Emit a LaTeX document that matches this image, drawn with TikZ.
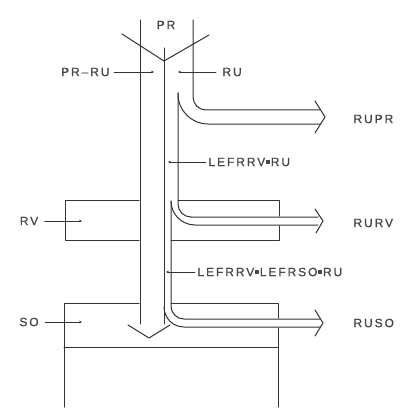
\documentclass[tikz,border=0pt]{standalone}
\usepackage{fontspec}
\setmainfont{Liberation Sans}
\newfontfamily\labfont[LetterSpace=16,FakeBold=0.8]{Liberation Sans}
\usetikzlibrary{arrows.meta}
\newcommand{\sqmark}{\hspace{1pt}\raisebox{2.4pt}{\rule{3.6pt}{3.6pt}}\hspace{1pt}}
\begin{document}
\begin{tikzpicture}[x=1pt,y=-1pt,
  every path/.style={draw=black!80,line width=1pt,line join=round,line cap=round},
  lab/.style={font=\labfont\fontsize{12}{14}\selectfont,text=black!72,inner sep=0pt},
  ptr/.style={draw=black!80,line width=0.75pt,-{Stealth[length=3pt,width=2.6pt]}}]
\useasboundingbox[fill=white,draw=none] (0,0) rectangle (410,417);

% boxes
\draw (139,200) -- (65,200) -- (65,240) -- (139,240);
\draw (178,200) -- (279,200) -- (279,216);
\draw (279,226) -- (279,240) -- (171,240);
\draw (139,303) -- (64,303) -- (64,407);
\draw (171,303) -- (278,303) -- (278,318);
\draw (278,328) -- (278,407);
\draw (64,347) -- (278,347);

% main PR stream
\draw (140,20) -- (140,324);
\draw (164,48) -- (164,324);
\draw (122,34) -- (164,61) -- (209,35);
\draw (128,325) -- (149,338) -- (170,325);

% RU branches
\draw[rounded corners=13pt] (193,20) -- (193,110) -- (320,110);
\draw[rounded corners=30pt] (178,93) -- (178,124) -- (320,124);
\draw[rounded corners=13pt] (178,93) -- (178,217) -- (318,217);
\draw[rounded corners=24pt] (171,201) -- (171,225) -- (318,225);
\draw[rounded corners=13pt] (171,201) -- (171,319) -- (320,319);
\draw[rounded corners=20pt] (164,307) -- (164,327) -- (320,327);

% open arrow heads
\draw (315,101) -- (325,117) -- (315,133);
\draw (315,209) -- (323,221) -- (316,233);
\draw (315,310) -- (323,323) -- (315,336);

% labels
\node[lab] (pr) at (166,25) {PR};
\node[lab,anchor=east] (prru) at (110,72) {PR–RU};
\node[lab,anchor=west] (ru) at (222,72) {RU};
\node[lab,anchor=west] (rupr) at (353,119) {RUPR};
\node[lab,anchor=west] (lab1) at (208,162) {LEFRRV\sqmark RU};
\node[lab,anchor=west] (rurv) at (353,223) {RURV};
\node[lab,anchor=west] (lab2) at (197,272) {LEFRRV\sqmark LEFRSO\sqmark RU};
\node[lab,anchor=west] (ruso) at (353,323) {RUSO};
\node[lab] (rv) at (29,221) {RV};
\node[lab] (so) at (29,322) {SO};

% pointers
\coordinate (prrutip) at (154,72);
\coordinate (rutip) at (178,72);
\coordinate (lab1tip) at (168,162);
\coordinate (lab2tip) at (166,272);
\coordinate (rvtip) at (82,221);
\coordinate (sotip) at (82,322);
\draw[ptr] ([xshift=4pt]prru.east) -- (prrutip);
\draw[ptr] ([xshift=-6pt]ru.west) -- (rutip);
\draw[ptr] ([xshift=-2pt]lab1.west) -- (lab1tip);
\draw[ptr] ([xshift=-2pt]lab2.west) -- (lab2tip);
\draw[ptr] ([xshift=6pt]rv.east) -- (rvtip);
\draw[ptr] ([xshift=6pt]so.east) -- (sotip);
\end{tikzpicture}
\end{document}
